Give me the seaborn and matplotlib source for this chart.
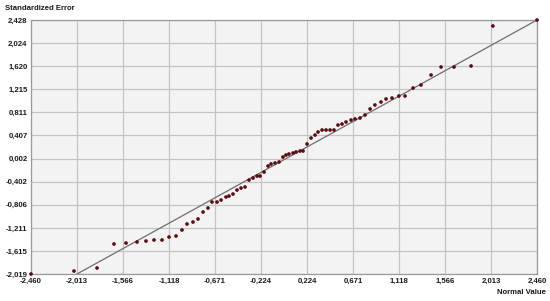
import matplotlib
matplotlib.use("Agg")
import matplotlib.pyplot as plt
import seaborn as sns
import pandas as pd

# normal QQ plot values
normal_value = [-2.460, -2.042, -1.818, -1.653, -1.536, -1.429, -1.342, -1.264, -1.186, -1.118,
                -1.050, -0.992, -0.943, -0.885, -0.836, -0.787, -0.739, -0.700, -0.651, -0.612,
                -0.564, -0.535, -0.496, -0.457, -0.418, -0.379, -0.340, -0.301, -0.262, -0.233,
                -0.194, -0.155, -0.126, -0.087, -0.048, -0.010, 0.019, 0.048, 0.088, 0.117,
                0.156, 0.185, 0.224, 0.263, 0.302, 0.331, 0.370, 0.409, 0.448, 0.486,
                0.525, 0.564, 0.603, 0.652, 0.691, 0.739, 0.788, 0.837, 0.884, 0.943,
                0.992, 1.050, 1.117, 1.177, 1.255, 1.332, 1.430, 1.527, 1.653, 1.819,
                2.031, 2.460]
std_error = [-2.019, -1.967, -1.914, -1.494, -1.477, -1.459, -1.442, -1.424, -1.424, -1.372,
             -1.354, -1.249, -1.144, -1.109, -1.056, -0.934, -0.864, -0.759, -0.759, -0.724,
             -0.671, -0.654, -0.619, -0.549, -0.514, -0.496, -0.374, -0.339, -0.304, -0.304,
             -0.234, -0.128, -0.093, -0.076, -0.058, 0.029, 0.064, 0.082, 0.099, 0.117,
             0.134, 0.134, 0.257, 0.362, 0.414, 0.467, 0.502, 0.502, 0.502, 0.502,
             0.589, 0.607, 0.642, 0.677, 0.695, 0.712, 0.765, 0.870, 0.940, 0.992,
             1.045, 1.062, 1.097, 1.097, 1.237, 1.290, 1.465, 1.605, 1.605, 1.623,
             2.323, 2.428]

# reference line
line_x = [-2.013, 2.460]
line_y = [-2.019, 2.428]

x_ticks = [-2.460, -2.013, -1.566, -1.118, -0.671, -0.224, 0.224, 0.671, 1.118, 1.566, 2.013, 2.460]
x_labels = ["-2,460", "-2,013", "-1,566", "-1,118", "-0,671", "-0,224",
            "0,224", "0,671", "1,118", "1,566", "2,013", "2,460"]
y_ticks = [-2.019, -1.615, -1.211, -0.806, -0.402, 0.002, 0.407, 0.811, 1.215, 1.620, 2.024, 2.428]
y_labels = ["-2,019", "-1,615", "-1,211", "-0,806", "-0,402", "0,002",
            "0,407", "0,811", "1,215", "1,620", "2,024", "2,428"]

df = pd.DataFrame({"x": normal_value, "y": std_error})
df_line = pd.DataFrame({"x": line_x, "y": line_y})

sns.set_style("whitegrid", {"axes.facecolor": "#f3f3f3", "grid.color": "#c4c4c4",
                            "axes.edgecolor": "#9a9a9a"})
plt.rcParams["font.family"] = ["Liberation Sans", "DejaVu Sans"]

fig = plt.figure(figsize=(5.5, 3.01), dpi=100)
ax = fig.add_axes([31 / 550, 27 / 301, 506 / 550, 254 / 301])

sns.lineplot(data=df_line, x="x", y="y", ax=ax, color="#6e6e6e", linewidth=0.9)
sns.scatterplot(data=df, x="x", y="y", ax=ax, color="#5a0c12", s=7, edgecolor="none",
                zorder=3, clip_on=False)

ax.set_xlim(-2.460, 2.460)
ax.set_ylim(-2.019, 2.428)
ax.set_xticks(x_ticks)
ax.set_xticklabels(x_labels)
ax.set_yticks(y_ticks)
ax.set_yticklabels(y_labels)
ax.grid(True, linewidth=0.9)
ax.tick_params(length=0, labelsize=5.6, colors="#1a1a1a", pad=2.5)
for lab in ax.get_xticklabels() + ax.get_yticklabels():
    lab.set_fontweight("bold")
for s in ax.spines.values():
    s.set_linewidth(0.9)
ax.set_xlabel("")
ax.set_ylabel("")

fig.text(5 / 550, 1 - 8 / 301, "Standardized Error", fontsize=5.6, fontweight="bold",
         color="#1a1a1a", ha="left", va="center")
fig.text(546 / 550, 1 - 293 / 301, "Normal Value", fontsize=5.6, fontweight="bold",
         color="#1a1a1a", ha="right", va="center")

fig.savefig("out.png", dpi=100)
